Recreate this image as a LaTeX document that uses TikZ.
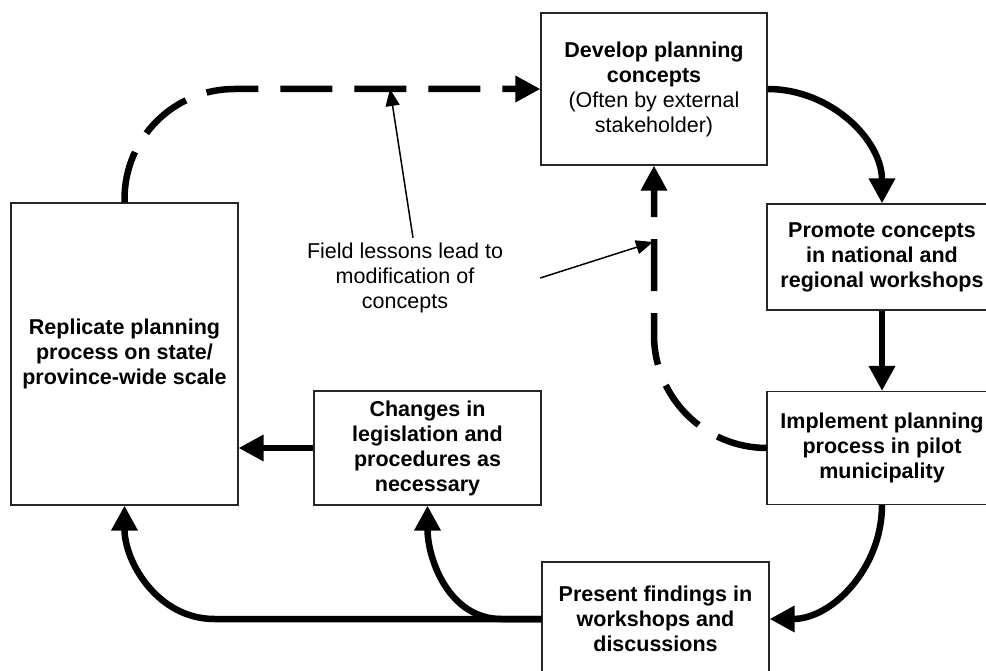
\documentclass[tikz,border=0pt]{standalone}
\usepackage{fontspec}
\setmainfont{Liberation Sans}
\usetikzlibrary{arrows.meta}
\begin{document}
\begin{tikzpicture}[x=1pt,y=-1pt,
  box/.style={draw=black!85, line width=1.1pt, inner sep=0pt, align=center,
    font=\fontsize{21.5}{25}\selectfont\bfseries},
  notetext/.style={align=center, inner sep=0pt, font=\fontsize{21.5}{25}\selectfont},
  flow/.style={line width=6.5pt, -{Triangle[length=25pt,width=25pt]}},
  loopback/.style={flow, dash pattern=on 52pt off 22pt},
  pointer/.style={line width=1.5pt, -{Triangle[length=17pt,width=14pt]}}
]
\useasboundingbox (0,0) rectangle (986,671);
\clip (0,0) rectangle (986,671);

% process boxes
\node[box, minimum width=226pt, minimum height=152pt] (dev) at (654,89)
  {Develop planning\\concepts\\{\mdseries (Often by external}\\{\mdseries stakeholder)}};
\node[box, minimum width=230pt, minimum height=106pt] (pro) at (882,257)
  {Promote concepts\\in national and\\regional workshops};
\node[box, minimum width=230pt, minimum height=113pt] (imp) at (882,448)
  {Implement planning\\process in pilot\\municipality};
\node[box, minimum width=227pt, minimum height=114pt] (pre) at (655.5,619)
  {Present findings in\\workshops and\\discussions};
\node[box, minimum width=227pt, minimum height=302pt] (rep) at (124.5,354)
  {Replicate planning\\process on state/\\province-wide scale};
\node[box, minimum width=227pt, minimum height=114pt] (chg) at (427.5,448)
  {Changes in\\legislation and\\procedures as\\necessary};

% annotation
\node[notetext] (note) at (405,278) {Field lessons lead to\\modification of\\concepts};
\coordinate (topdash) at (390,89);
\coordinate (middash) at (653,242);

% main cycle
\draw[flow] (dev.east) to[out=0,in=90] (pro.north);
\draw[flow] (pro.south) -- (imp.north);
\draw[flow] (imp.south) to[out=-90,in=0] (pre.east);
\draw[flow] (pre.west) -- ++(-327,0) to[out=180,in=-90] (rep.south);
\draw[flow] (pre.west) -- ++(-40,0) to[out=180,in=-90] (chg.south);
\draw[flow] (chg.west) -- (chg.west -| rep.east);

% feedback loops
\draw[loopback, rounded corners=110pt] (rep.north) |- (dev.west);
\draw[loopback, rounded corners=113pt] (imp.west) -| (dev.south);

% pointers from the annotation
\draw[pointer] ([shift={(8,-5)}]note.north) -- (topdash);
\draw[pointer] ([xshift=37pt]note.east) -- (middash);
\end{tikzpicture}
\end{document}
